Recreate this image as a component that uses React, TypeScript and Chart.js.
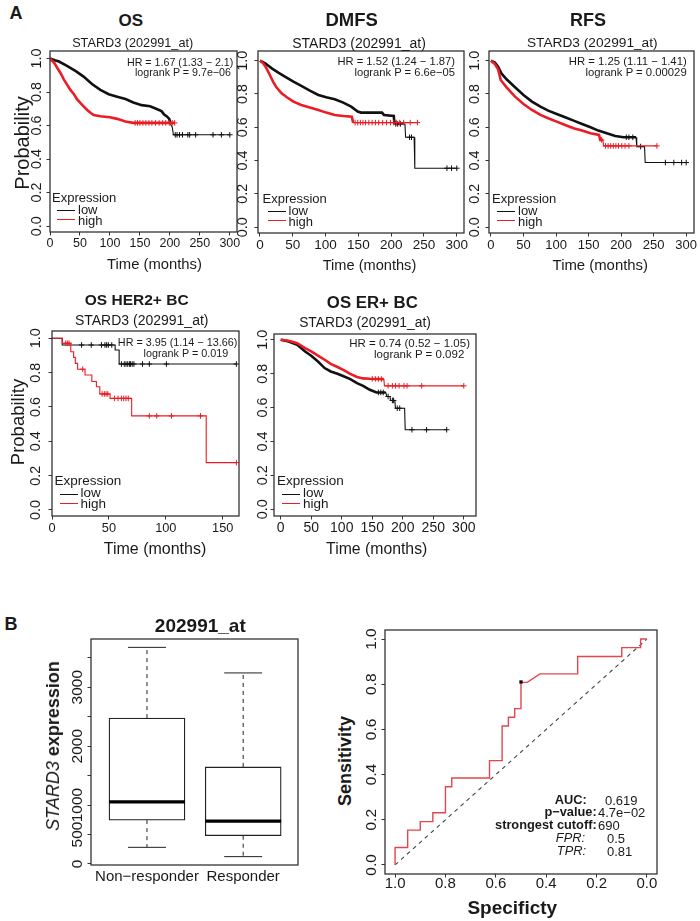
import React, { useEffect, useRef } from 'react';
import { Chart, registerables } from 'chart.js';

Chart.register(...registerables);

type Pt = [number, number];

const FONT = '"Liberation Sans", Arial, Helvetica, sans-serif';
const INK = '#1a1a1a';
const FRAME = '#333333';
const LOW_C = '#111111';
const HIGH_C = '#ec1c24';
const ROC_C = '#e4464c';

// ---------------- Kaplan-Meier data: [time (months), survival probability] ----------------
const osLow: Pt[] = [[0, 1], [8, 0.99], [15, 0.982], [29, 0.955], [43, 0.925], [56, 0.892], [70, 0.848], [84, 0.813], [98, 0.787], [112, 0.772], [126, 0.758], [139, 0.738], [153, 0.722], [167, 0.715], [178, 0.699], [186, 0.686], [190, 0.668], [195, 0.655], [199, 0.64], [201, 0.61], [204, 0.59], [206, 0.545], [300, 0.545]];
const osLowCens: Pt[] = [[209, 0.545], [212, 0.545], [216, 0.545], [221, 0.545], [230, 0.545], [233, 0.545], [243, 0.545], [272, 0.545], [286, 0.545], [300, 0.545]];
const osHigh: Pt[] = [[0, 1], [7, 0.974], [12, 0.945], [18, 0.911], [23, 0.876], [29, 0.841], [34, 0.813], [40, 0.787], [45, 0.758], [51, 0.734], [56, 0.715], [62, 0.693], [68, 0.675], [73, 0.663], [84, 0.656], [100, 0.65], [112, 0.64], [126, 0.624], [139, 0.616], [208, 0.616]];
const osHighCens: Pt[] = [[142, 0.616], [146, 0.616], [150, 0.616], [155, 0.616], [160, 0.616], [165, 0.616], [170, 0.616], [176, 0.616], [182, 0.616], [188, 0.616], [193, 0.616], [199, 0.616], [204, 0.616], [208, 0.616]];

const dmfsLow: Pt[] = [[0, 1], [8, 0.984], [18, 0.954], [28, 0.928], [38, 0.904], [51, 0.874], [63, 0.848], [76, 0.82], [89, 0.794], [101, 0.78], [114, 0.768], [127, 0.748], [139, 0.724], [149, 0.694], [154, 0.688], [186, 0.688], [189, 0.674], [204, 0.668], [205, 0.62], [221, 0.62], [222, 0.54], [235, 0.54], [236, 0.354], [300, 0.354]];
const dmfsLowCens: Pt[] = [[207, 0.62], [210, 0.62], [214, 0.62], [228, 0.54], [231, 0.54], [285, 0.354], [292, 0.354], [300, 0.354]];
const dmfsHigh: Pt[] = [[0, 1], [5, 0.984], [10, 0.954], [15, 0.914], [20, 0.874], [25, 0.84], [33, 0.804], [41, 0.78], [51, 0.754], [63, 0.734], [76, 0.718], [89, 0.704], [101, 0.688], [114, 0.674], [127, 0.668], [140, 0.664], [142, 0.628], [240, 0.628]];
const dmfsHighCens: Pt[] = [[145, 0.628], [149, 0.628], [153, 0.628], [157, 0.628], [161, 0.628], [166, 0.628], [171, 0.628], [176, 0.628], [181, 0.628], [187, 0.628], [193, 0.628], [199, 0.628], [204, 0.628], [208, 0.628], [213, 0.628], [219, 0.628], [229, 0.628], [240, 0.628]];

const rfsLow: Pt[] = [[0, 1], [6, 0.988], [11, 0.964], [16, 0.924], [24, 0.888], [37, 0.84], [50, 0.794], [63, 0.754], [76, 0.724], [88, 0.7], [101, 0.68], [114, 0.66], [127, 0.64], [140, 0.62], [153, 0.6], [165, 0.58], [178, 0.564], [191, 0.548], [204, 0.54], [223, 0.54], [224, 0.484], [236, 0.484], [237, 0.388], [300, 0.388]];
const rfsLowCens: Pt[] = [[208, 0.54], [212, 0.54], [218, 0.54], [230, 0.484], [268, 0.388], [281, 0.388], [293, 0.388], [300, 0.388]];
const rfsHigh: Pt[] = [[0, 1], [6, 0.98], [11, 0.948], [15, 0.884], [24, 0.84], [37, 0.784], [50, 0.74], [63, 0.704], [76, 0.674], [88, 0.654], [101, 0.634], [114, 0.614], [127, 0.594], [140, 0.58], [153, 0.564], [166, 0.554], [168, 0.524], [172, 0.524], [173, 0.488], [255, 0.488]];
const rfsHighCens: Pt[] = [[170, 0.524], [176, 0.488], [180, 0.488], [184, 0.488], [188, 0.488], [192, 0.488], [196, 0.488], [201, 0.488], [206, 0.488], [212, 0.488], [255, 0.488]];

const her2Low: Pt[] = [[0, 1], [9, 0.961], [55.5, 0.932], [59, 0.85], [162, 0.85]];
const her2LowCens: Pt[] = [[26, 0.961], [34.5, 0.961], [43.5, 0.961], [46.5, 0.961], [48, 0.961], [49.5, 0.961], [52.5, 0.961], [61, 0.85], [63.5, 0.85], [65, 0.85], [66.5, 0.85], [68, 0.85], [69, 0.85], [70.5, 0.85], [72, 0.85], [79.5, 0.85], [85.5, 0.85], [100.5, 0.85], [162, 0.85]];
const her2High: Pt[] = [[0, 1], [9, 0.971], [16.5, 0.922], [19, 0.889], [20.5, 0.854], [22.5, 0.82], [29, 0.786], [35, 0.748], [39, 0.718], [42, 0.676], [51, 0.65], [70, 0.548], [135.5, 0.276], [162, 0.276]];
const her2HighCens: Pt[] = [[12, 0.971], [13.5, 0.971], [15, 0.971], [27, 0.82], [44, 0.676], [46, 0.676], [47.5, 0.676], [49, 0.676], [55, 0.65], [58, 0.65], [61, 0.65], [63, 0.65], [65, 0.65], [67, 0.65], [85.5, 0.548], [92, 0.548], [105, 0.548], [130.5, 0.548], [162, 0.276]];

const erLow: Pt[] = [[0, 1], [13, 0.99], [27, 0.97], [40, 0.931], [50, 0.906], [61, 0.872], [72, 0.833], [82, 0.813], [93, 0.799], [104, 0.783], [114, 0.768], [125, 0.744], [135, 0.728], [146, 0.705], [157, 0.689], [172, 0.689], [174, 0.665], [179, 0.665], [180, 0.642], [187, 0.642], [188, 0.596], [203, 0.596], [204, 0.469], [272, 0.469]];
const erLowCens: Pt[] = [[160, 0.689], [164, 0.689], [168, 0.689], [176, 0.665], [183, 0.642], [185, 0.642], [191, 0.596], [195, 0.596], [215, 0.469], [239, 0.469], [272, 0.469]];
const erHigh: Pt[] = [[0, 1], [13, 0.994], [27, 0.98], [40, 0.951], [50, 0.931], [61, 0.906], [72, 0.882], [82, 0.858], [93, 0.839], [104, 0.819], [114, 0.799], [125, 0.78], [135, 0.772], [146, 0.77], [169, 0.768], [170, 0.728], [300, 0.728]];
const erHighCens: Pt[] = [[150, 0.77], [155, 0.769], [160, 0.769], [165, 0.768], [176, 0.728], [183, 0.728], [188, 0.728], [194, 0.728], [202, 0.728], [207, 0.728], [231, 0.728], [300, 0.728]];

const kmYTicks = [0, 0.2, 0.4, 0.6, 0.8, 1.0];
const kmTimeTicks = [0, 50, 100, 150, 200, 250, 300];
const her2TimeTicks = [0, 50, 100, 150];

const kmTitles = ['OS', 'DMFS', 'RFS', 'OS HER2+ BC', 'OS ER+ BC'];
const kmSubtitle = 'STARD3 (202991_at)';
const kmHR = ['HR = 1.67 (1.33 \u2212 2.1)', 'HR = 1.52 (1.24 \u2212 1.87)', 'HR = 1.25 (1.11 \u2212 1.41)', 'HR = 3.95 (1.14 \u2212 13.66)', 'HR = 0.74 (0.52 \u2212 1.05)'];
const kmLogrank = ['logrank P = 9.7e\u221206', 'logrank P = 6.6e\u221205', 'logrank P = 0.00029', 'logrank P = 0.019', 'logrank P = 0.092'];

// ---------------- Boxplot data ----------------
const boxGroups = ['Non\u2212responder', 'Responder'];
const boxMin = [282, 124];
const boxQ1 = [744, 479];
const boxMedian = [1055, 728];
const boxQ3 = [2476, 1647];
const boxMax = [3677, 3243];
const boxYTicks = [0, 500, 1000, 1500, 2000, 2500, 3000, 3500];
const boxYLabels = ['0', '500', '1000', '', '2000', '', '3000', ''];

// ---------------- ROC data: [specificity, sensitivity] ----------------
const rocCurve: Pt[] = [[1, 0], [1, 0.077], [0.95, 0.077], [0.95, 0.154], [0.9, 0.154], [0.9, 0.192], [0.85, 0.192], [0.85, 0.231], [0.8, 0.231], [0.8, 0.346], [0.775, 0.346], [0.775, 0.385], [0.625, 0.385], [0.625, 0.462], [0.575, 0.462], [0.575, 0.615], [0.55, 0.615], [0.55, 0.654], [0.525, 0.654], [0.525, 0.692], [0.5, 0.692], [0.5, 0.808], [0.475, 0.808], [0.425, 0.846], [0.275, 0.846], [0.275, 0.923], [0.1, 0.923], [0.1, 0.962], [0.025, 0.962], [0.025, 1], [0, 1]];
const rocCutoff: Pt = [0.5, 0.81];
const chanceLine: Pt[] = [[1, 0], [0, 1]];
const rocTicks = [0, 0.2, 0.4, 0.6, 0.8, 1.0];
const rocStatLabels = ['AUC:', 'p\u2212value:', 'strongest cutoff:', 'FPR:', 'TPR:'];
const rocStatValues = ['0.619', '4.7e\u221202', '690', '0.5', '0.81'];

// ---------------- helpers ----------------
const M = { L: 30, T: 6, R: 6, B: 26 };

function Txt(props: { x: number; y: number; size: number; bold?: boolean; italic?: boolean; align?: 'left' | 'center' | 'right'; rot?: number; color?: string; children: React.ReactNode }) {
  const { x, y, size, bold, italic, align = 'center', rot = 0, color = INK, children } = props;
  const tx = align === 'center' ? '-50%' : align === 'right' ? '-100%' : '0';
  return (
    <div style={{ position: 'absolute', left: x, top: y, transform: `translate(${tx},-50%)` + (rot ? ` rotate(${rot}deg)` : ''), fontFamily: FONT, fontSize: size, fontWeight: bold ? 700 : 400, fontStyle: italic ? 'italic' : 'normal', lineHeight: 1, whiteSpace: 'nowrap', color }}>
      {children}
    </div>
  );
}

function HLine({ x0, x1, y, color }: { x0: number; x1: number; y: number; color: string }) {
  return <div style={{ position: 'absolute', left: x0, top: y - 0.6, width: x1 - x0, height: 0, borderTop: `1.2px solid ${color}` }} />;
}

function ChartCanvas({ box, make }: { box: number[]; make: () => any }) {
  const ref = useRef<HTMLCanvasElement | null>(null);
  useEffect(() => {
    if (!ref.current) return;
    const chart = new Chart(ref.current, make());
    return () => chart.destroy();
  }, []);
  const [l, t, r, b] = box;
  const W = r - l + M.L + M.R;
  const H = b - t + M.T + M.B;
  return <canvas ref={ref} width={W} height={H} style={{ position: 'absolute', left: l - M.L, top: t - M.T, width: W, height: H }} />;
}

function linScale(axis: 'x' | 'y', min: number, max: number, ticks: number[], opts: { reverse?: boolean; marks?: boolean }) {
  return {
    type: 'linear',
    min,
    max,
    reverse: !!opts.reverse,
    offset: false,
    afterBuildTicks: (s: any) => {
      s.ticks = ticks.map((v) => ({ value: v }));
    },
    afterFit: (s: any) => {
      if (axis === 'x') s.height = M.B;
      else s.width = M.L;
    },
    ticks: { display: false },
    grid: { display: opts.marks !== false, drawOnChartArea: false, drawTicks: true, tickLength: 3.5, color: FRAME, lineWidth: 1, offset: false },
    border: { display: false },
  };
}

function baseOptions(x: any, y: any) {
  return {
    responsive: false,
    maintainAspectRatio: false,
    animation: false,
    events: [],
    layout: { padding: { left: 0, top: M.T, right: M.R, bottom: 0 } },
    plugins: { legend: { display: false }, tooltip: { enabled: false }, title: { display: false } },
    scales: { x, y },
  };
}

function axesPlugin(o: { xFont: string; yFont: string; xOff: number; yOff: number; xFmt: (v: number) => string; yFmt: (v: number) => string }) {
  return {
    id: 'rAxes',
    afterDraw(chart: any) {
      const { ctx, chartArea: a, scales } = chart;
      ctx.save();
      ctx.strokeStyle = FRAME;
      ctx.lineWidth = 1.3;
      ctx.strokeRect(a.left, a.top, a.right - a.left, a.bottom - a.top);
      ctx.fillStyle = INK;
      ctx.textAlign = 'center';
      ctx.textBaseline = 'middle';
      ctx.font = o.xFont;
      for (const tk of scales.x.ticks) {
        const s = o.xFmt(tk.value);
        if (s) ctx.fillText(s, scales.x.getPixelForValue(tk.value), a.bottom + o.xOff);
      }
      ctx.font = o.yFont;
      for (const tk of scales.y.ticks) {
        const s = o.yFmt(tk.value);
        if (!s) continue;
        const y = scales.y.getPixelForValue(tk.value);
        ctx.save();
        ctx.translate(a.left - o.yOff, y);
        ctx.rotate(-Math.PI / 2);
        ctx.fillText(s, 0, 0);
        ctx.restore();
      }
      ctx.restore();
    },
  };
}

// ---------------- KM panels ----------------
interface KMSpec {
  idx: number;
  low: Pt[]; high: Pt[]; lowCens: Pt[]; highCens: Pt[];
  stepped: boolean; lowDense: number; highDense: number;
  box: number[]; xMin: number; xMax: number; xTicks: number[]; yMin: number; yMax: number;
  xTickSize: number; yTickSize: number; xOff: number; yOff: number;
  title: number[]; sub: number[]; hr: number[]; lr: number[]; hrSize: number;
  xlab: number[]; ylab?: number[]; legDx: number; legSize: number;
}

const kmSpecs: KMSpec[] = [
  { idx: 0, low: osLow, high: osHigh, lowCens: osLowCens, highCens: osHighCens, stepped: false, lowDense: 200, highDense: 140,
    box: [50, 51, 237, 232], xMin: 0, xMax: 312, xTicks: kmTimeTicks, yMin: -0.035, yMax: 1.045,
    xTickSize: 12.5, yTickSize: 14.4, xOff: 11.5, yOff: 13,
    title: [130.7, 20, 17], sub: [132.7, 42.7, 12.7], hr: [233.3, 61.7], lr: [231, 72.3], hrSize: 10.7,
    xlab: [154.5, 263.5, 14.8], ylab: [22, 143, 20], legDx: 0, legSize: 13 },
  { idx: 1, low: dmfsLow, high: dmfsHigh, lowCens: dmfsLowCens, highCens: dmfsHighCens, stepped: false, lowDense: 205, highDense: 142,
    box: [258, 51, 464, 233], xMin: -3, xMax: 311, xTicks: kmTimeTicks, yMin: -0.035, yMax: 1.058,
    xTickSize: 13.5, yTickSize: 14.4, xOff: 12, yOff: 15,
    title: [351.7, 20, 18.5], sub: [359, 42.7, 14], hr: [455, 62.3], lr: [455, 73.3], hrSize: 11.2,
    xlab: [369.5, 265, 14.6], legDx: 2.5, legSize: 13 },
  { idx: 2, low: rfsLow, high: rfsHigh, lowCens: rfsLowCens, highCens: rfsHighCens, stepped: false, lowDense: 205, highDense: 170,
    box: [489, 51, 694, 233], xMin: -3, xMax: 312, xTicks: kmTimeTicks, yMin: -0.035, yMax: 1.058,
    xTickSize: 13, yTickSize: 14.4, xOff: 12, yOff: 14,
    title: [588, 20, 18], sub: [592.3, 42.7, 13.7], hr: [686.7, 61.7], lr: [686.7, 72.7], hrSize: 11.3,
    xlab: [600.3, 265, 14.9], legDx: 1, legSize: 13 },
  { idx: 3, low: her2Low, high: her2High, lowCens: her2LowCens, highCens: her2HighCens, stepped: true, lowDense: 0, highDense: 0,
    box: [52, 331, 239, 516], xMin: 0, xMax: 164.3, xTicks: her2TimeTicks, yMin: -0.035, yMax: 1.0425,
    xTickSize: 12.8, yTickSize: 14.4, xOff: 12.3, yOff: 16,
    title: [136.7, 300, 15.5], sub: [141.7, 320, 14], hr: [237.3, 341.7], lr: [228.3, 353.3], hrSize: 10.8,
    xlab: [155, 549.3, 16], ylab: [18.3, 421.7, 18.5], legDx: 0.5, legSize: 13.5 },
  { idx: 4, low: erLow, high: erHigh, lowCens: erLowCens, highCens: erHighCens, stepped: false, lowDense: 170, highDense: 169,
    box: [274, 334, 476, 516], xMin: -11, xMax: 320, xTicks: kmTimeTicks, yMin: -0.04, yMax: 1.034,
    xTickSize: 14, yTickSize: 14.4, xOff: 12.3, yOff: 10.5,
    title: [372.3, 302.7, 16.8], sub: [365, 323.3, 13.8], hr: [470, 344], lr: [464.3, 355], hrSize: 11.5,
    xlab: [376.7, 549.3, 15.8], legDx: 1, legSize: 13.5 },
];

function KMPanel({ p }: { p: KMSpec }) {
  const [l, , , b] = p.box;
  const make = () => {
    const curve = (d: Pt[], color: string, dense: number) => ({
      data: d.map(([x, y]) => ({ x, y })),
      showLine: true,
      stepped: p.stepped,
      borderColor: color,
      backgroundColor: color,
      borderWidth: 1.1,
      pointRadius: 0,
      segment: { borderWidth: (c: any) => (c.p0.parsed.x < dense ? 2.6 : 1.1) },
    });
    const cens = (d: Pt[], color: string) => ({
      data: d.map(([x, y]) => ({ x, y })),
      showLine: false,
      pointStyle: 'cross',
      pointRadius: 2.8,
      pointBorderWidth: 1,
      borderColor: color,
      backgroundColor: color,
    });
    return {
      type: 'scatter',
      data: { datasets: [cens(p.highCens, HIGH_C), curve(p.high, HIGH_C, p.highDense), cens(p.lowCens, LOW_C), curve(p.low, LOW_C, p.lowDense)] },
      options: baseOptions(linScale('x', p.xMin, p.xMax, p.xTicks, {}), linScale('y', p.yMin, p.yMax, kmYTicks, {})),
      plugins: [axesPlugin({ xFont: `${p.xTickSize}px ${FONT}`, yFont: `${p.yTickSize}px ${FONT}`, xOff: p.xOff, yOff: p.yOff, xFmt: (v) => String(v), yFmt: (v) => v.toFixed(1) })],
    };
  };
  const lx = l + p.legDx;
  return (
    <>
      <ChartCanvas box={p.box} make={make} />
      <Txt x={p.title[0]} y={p.title[1]} size={p.title[2]} bold>{kmTitles[p.idx]}</Txt>
      <Txt x={p.sub[0]} y={p.sub[1]} size={p.sub[2]}>{kmSubtitle}</Txt>
      <Txt x={p.hr[0]} y={p.hr[1]} size={p.hrSize} align="right">{kmHR[p.idx]}</Txt>
      <Txt x={p.lr[0]} y={p.lr[1]} size={p.hrSize} align="right">{kmLogrank[p.idx]}</Txt>
      <Txt x={p.xlab[0]} y={p.xlab[1]} size={p.xlab[2]}>Time (months)</Txt>
      {p.ylab && <Txt x={p.ylab[0]} y={p.ylab[1]} size={p.ylab[2]} rot={-90}>Probability</Txt>}
      <Txt x={lx + 2} y={b - 35.5} size={p.legSize} align="left">Expression</Txt>
      <HLine x0={lx + 7} x1={lx + 25} y={b - 21} color={LOW_C} />
      <Txt x={lx + 28} y={b - 23} size={p.legSize} align="left">low</Txt>
      <HLine x0={lx + 7} x1={lx + 25} y={b - 12} color={HIGH_C} />
      <Txt x={lx + 28} y={b - 12.5} size={p.legSize} align="left">high</Txt>
    </>
  );
}

// ---------------- Boxplot ----------------
const BOX_HALF = 0.395;
const CAP_HALF = 0.1975;

function BoxPanel() {
  const box = [91, 639, 298, 865];
  const make = () => {
    const seg = (pts: { x: number; y: number }[], extra: any) => ({ type: 'line', data: pts, borderColor: '#222', borderWidth: 1, pointRadius: 0, order: 0, ...extra });
    const ds: any[] = [];
    boxGroups.forEach((_, i) => {
      const c = i + 1;
      ds.push(seg([{ x: c - BOX_HALF, y: boxMedian[i] }, { x: c + BOX_HALF, y: boxMedian[i] }], { borderWidth: 3.2, borderColor: '#000' }));
      ds.push(seg([{ x: c, y: boxQ3[i] }, { x: c, y: boxMax[i] }], { borderDash: [4, 4] }));
      ds.push(seg([{ x: c, y: boxQ1[i] }, { x: c, y: boxMin[i] }], { borderDash: [4, 4] }));
      ds.push(seg([{ x: c - CAP_HALF, y: boxMax[i] }, { x: c + CAP_HALF, y: boxMax[i] }], {}));
      ds.push(seg([{ x: c - CAP_HALF, y: boxMin[i] }, { x: c + CAP_HALF, y: boxMin[i] }], {}));
    });
    ds.push({
      type: 'bar',
      data: boxGroups.map((_, i) => ({ x: i + 1, y: [boxQ1[i], boxQ3[i]] })),
      barThickness: 76,
      backgroundColor: '#ffffff',
      borderColor: '#222',
      borderWidth: 1.3,
      borderSkipped: false,
      order: 1,
    });
    return {
      type: 'bar',
      data: { datasets: ds },
      options: baseOptions(linScale('x', 0.418, 2.57, [1, 2], { marks: false }), linScale('y', -18, 3819, boxYTicks, {})),
      plugins: [axesPlugin({ xFont: `15px ${FONT}`, yFont: `15.5px ${FONT}`, xOff: 11.7, yOff: 13.7, xFmt: (v) => boxGroups[Math.round(v) - 1] ?? '', yFmt: (v) => boxYLabels[boxYTicks.indexOf(v)] ?? '' })],
    };
  };
  return (
    <>
      <ChartCanvas box={box} make={make} />
      <Txt x={200.3} y={625} size={19} bold>202991_at</Txt>
      <Txt x={53} y={745.7} size={18} rot={-90}>
        <span style={{ fontStyle: 'italic' }}>STARD3</span> <span style={{ fontWeight: 700 }}>expression</span>
      </Txt>
    </>
  );
}

// ---------------- ROC ----------------
function RocPanel() {
  const box = [385, 630, 657, 874];
  const make = () => ({
    type: 'scatter',
    data: {
      datasets: [
        { data: [{ x: rocCutoff[0], y: rocCutoff[1] }], showLine: false, pointStyle: 'rect', pointRadius: 2.3, backgroundColor: '#000', borderColor: '#000', borderWidth: 0 },
        { data: rocCurve.map(([x, y]) => ({ x, y })), showLine: true, borderColor: ROC_C, borderWidth: 1.4, pointRadius: 0 },
        { data: chanceLine.map(([x, y]) => ({ x, y })), showLine: true, borderColor: '#444', borderWidth: 1.1, borderDash: [4, 4], pointRadius: 0 },
      ],
    },
    options: baseOptions(linScale('x', -0.04, 1.04, rocTicks, { reverse: true }), linScale('y', -0.04, 1.04, rocTicks, {})),
    plugins: [axesPlugin({ xFont: `15px ${FONT}`, yFont: `15.5px ${FONT}`, xOff: 9.5, yOff: 13.3, xFmt: (v) => v.toFixed(1), yFmt: (v) => v.toFixed(1) })],
  });
  const labelRight = [586.7, 596.7, 596.7, 585, 586];
  const valueLeft = [605, 598, 598, 607, 607];
  const rowY = [800, 812.3, 825, 837.7, 851];
  return (
    <>
      <ChartCanvas box={box} make={make} />
      <Txt x={345} y={760.7} size={18} bold rot={-90}>Sensitivity</Txt>
      <Txt x={512.3} y={906.7} size={19} bold>Specificty</Txt>
      {rocStatLabels.map((s, i) => (
        <Txt key={'l' + i} x={labelRight[i]} y={rowY[i]} size={12.8} bold={i < 3} italic={i >= 3} align="right">{s}</Txt>
      ))}
      {rocStatValues.map((s, i) => (
        <Txt key={'v' + i} x={valueLeft[i]} y={rowY[i]} size={13} align="left">{s}</Txt>
      ))}
    </>
  );
}

export default function App() {
  return (
    <div style={{ position: 'absolute', left: 0, top: 0, width: 700, height: 921, background: '#fff', overflow: 'hidden', fontFamily: FONT }}>
      <Txt x={16} y={13} size={18} bold>A</Txt>
      {kmSpecs.map((p) => (
        <KMPanel key={p.idx} p={p} />
      ))}
      <Txt x={11} y={624} size={18} bold>B</Txt>
      <BoxPanel />
      <RocPanel />
    </div>
  );
}
